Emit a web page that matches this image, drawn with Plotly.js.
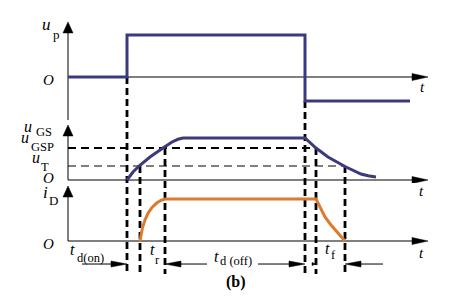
<!DOCTYPE html>
<html><head><meta charset="utf-8">
<script src="https://cdn.plot.ly/plotly-3.0.1.min.js"></script>
<style>html,body{margin:0;padding:0;background:#fff}#chart{width:458px;height:297px}</style>
</head><body><div id="chart"></div>
<script>
// ---------------- data ----------------
// time axis: t = 0 at the vertical axis; one unit = one time step
// u_p : gate drive pulse
const upT = [0, 59, 59, 237, 237, 342];
const upV = [0, 0, 1, 1, -0.571, -0.571];
// u_GS : gate-source voltage
const ugsT = [59, 65, 71, 82, 95, 104, 110, 115, 237, 248, 260, 277, 293, 300, 308];
const ugsV = [0, 0.19, 0.333, 0.548, 0.762, 0.905, 0.97, 1, 1, 0.762, 0.548, 0.321, 0.143, 0.1, 0.071];
// i_D : drain current
const idT = [72, 73, 74.5, 77, 80, 84, 89, 93, 97, 248, 250, 252, 257, 263, 270, 277];
const idV = [0, 0.15, 0.32, 0.5, 0.66, 0.8, 0.91, 0.97, 1, 1, 0.9, 0.786, 0.571, 0.381, 0.19, 0];
// reference levels
const uGSP = 0.762;
const uT = 0.333;
const upLow = -0.571;
// switching instants and where their dashed markers start
const markT = [59, 72, 97, 237, 248, 277];
const markPanel = ['top', 'mid', 'mid', 'top', 'mid', 'mid'];
const markLevel = [0, uT, uGSP, upLow, uGSP, uT];
// time-interval arrows (tip, tail)
const arrTip = [59, 97, 237, 248, 277];
const arrTail = [14, 139, 190, 244, 315];
// ---------------- layout helpers ----------------
const W = 458, H = 297, X0 = 68, UNIT = 42, TEND = 360, YTIP = 1.31;
const NAVY = '#3b3a7c', ORANGE = '#dc7a2e';
const panels = {
  top: {zero: 77, dom: [0, 121], ax: 'y'},
  mid: {zero: 180, dom: [121, 183], ax: 'y2'},
  bot: {zero: 241, dom: [183, 297], ax: 'y3'}
};
function yaxisFor(p) {
  return {domain: [1 - p.dom[1] / H, 1 - p.dom[0] / H],
          range: [(p.zero - p.dom[1]) / UNIT, (p.zero - p.dom[0]) / UNIT],
          visible: false, fixedrange: true, anchor: 'x'};
}
function paperY(p, v) { return 1 - (p.zero - v * UNIT) / H; }
const arrowY = -0.548, dashEnd = -0.786;

const traces = [
  {x: upT, y: upV, yaxis: 'y', mode: 'lines', line: {color: NAVY, width: 3}, hoverinfo: 'skip'},
  {x: ugsT, y: ugsV, yaxis: 'y2', mode: 'lines', line: {color: NAVY, width: 3}, hoverinfo: 'skip'},
  {x: idT, y: idV, yaxis: 'y3', mode: 'lines', line: {color: ORANGE, width: 3}, hoverinfo: 'skip'}
];

const shapes = [];
function line(ax, x0, y0, x1, y1, w, dash) {
  shapes.push({type: 'line', xref: 'x', yref: ax, x0: x0, y0: y0, x1: x1, y1: y1, layer: 'below',
               line: {color: '#000', width: w, dash: dash || 'solid'}});
}
function tri(ax, pts) {
  shapes.push({type: 'path', xref: 'x', yref: ax, layer: 'below', fillcolor: '#000',
               line: {color: '#000', width: 0.5},
               path: 'M' + pts.map(p => p[0] + ',' + p[1]).join('L') + 'Z'});
}
// axes with arrowheads
Object.keys(panels).forEach(k => {
  const p = panels[k], ax = p.ax;
  line(ax, 0, 0, TEND - 14, 0, 1);
  tri(ax, [[TEND, 0], [TEND - 16, 3.5 / UNIT], [TEND - 16, -3.5 / UNIT]]);
  const yb = k === 'top' ? (p.zero - 120) / UNIT : 0;
  line(ax, 0, yb, 0, YTIP - 8 / UNIT, 1);
  tri(ax, [[0, YTIP], [-5, YTIP - 11 / UNIT], [5, YTIP - 11 / UNIT]]);
});
// horizontal reference dashes
line('y2', 0, uGSP, markT[4], uGSP, 2, '8px,5px');
line('y2', 0, uT, markT[5], uT, 1.2, '8px,5px');
// vertical switching-instant dashes
markT.forEach((t, i) => {
  shapes.push({type: 'line', xref: 'x', yref: 'paper', x0: t, x1: t,
               y0: paperY(panels[markPanel[i]], markLevel[i]), y1: paperY(panels.bot, dashEnd),
               layer: 'below', line: {color: '#000', width: 2.8, dash: '7px,4px'}});
});
// interval arrows
arrTip.forEach((tip, i) => {
  const tail = arrTail[i];
  const dir = tip > tail ? 1 : -1;
  const len = i === 3 ? 4 : 16;
  const hh = (i === 3 ? 1.5 : 3) / UNIT;
  if (i !== 3) line('y3', tail, arrowY, tip - dir * len * 0.5, arrowY, 1);
  tri('y3', [[tip, arrowY], [tip - dir * len, arrowY + hh], [tip - dir * len, arrowY - hh]]);
});

// text labels (pixel positions -> paper)
const FONT = '"Liberation Serif", "Times New Roman", serif';
const labels = [
  ['<i>u</i>', 46, 25, 17], ['p', 56, 34, 13],
  ['<i>O</i>', 48, 80, 15],
  ['<i>t</i>', 422, 87, 15],
  ['<i>u</i>', 28, 126, 16], ['GS', 44, 132, 12.5],
  ['<i>u</i>', 25, 137, 16], ['GSP', 42, 147, 12.5],
  ['<i>u</i>', 36, 157, 16], ['T', 45, 167, 12.5],
  ['<i>O</i>', 48, 178, 15],
  ['<i>t</i>', 421, 191, 15],
  ['<i>i</i>', 45, 192, 17], ['D', 53, 200, 13],
  ['<i>O</i>', 48, 244, 15],
  ['<i>t</i>', 421, 253, 15],
  ['<i>t</i>', 72, 249, 16], ['d(on)', 90, 258, 12.5],
  ['<i>t</i>', 152, 249, 16], ['r', 157, 260, 12.5],
  ['<i>t</i>', 216, 256, 16], ['d (off)', 236, 261, 12.5],
  ['<i>t</i>', 327, 248, 16], ['f', 333, 255, 12.5],
  ['<b>(b)</b>', 236, 282, 16]
];
const annotations = labels.map(l => ({
  text: l[0], x: l[1] / W, y: 1 - l[2] / H, xref: 'paper', yref: 'paper',
  xanchor: 'center', yanchor: 'middle', showarrow: false, borderpad: 0,
  font: {family: FONT, size: l[3], color: '#000'}
}));

const layout = {
  width: W, height: H, margin: {l: 0, r: 0, t: 0, b: 0},
  paper_bgcolor: '#fff', plot_bgcolor: 'rgba(0,0,0,0)', showlegend: false,
  xaxis: {range: [-X0, W - X0], domain: [0, 1], visible: false, fixedrange: true},
  yaxis: yaxisFor(panels.top), yaxis2: yaxisFor(panels.mid), yaxis3: yaxisFor(panels.bot),
  shapes: shapes, annotations: annotations
};
Plotly.newPlot('chart', traces, layout, {staticPlot: true, displayModeBar: false});
</script></body></html>
